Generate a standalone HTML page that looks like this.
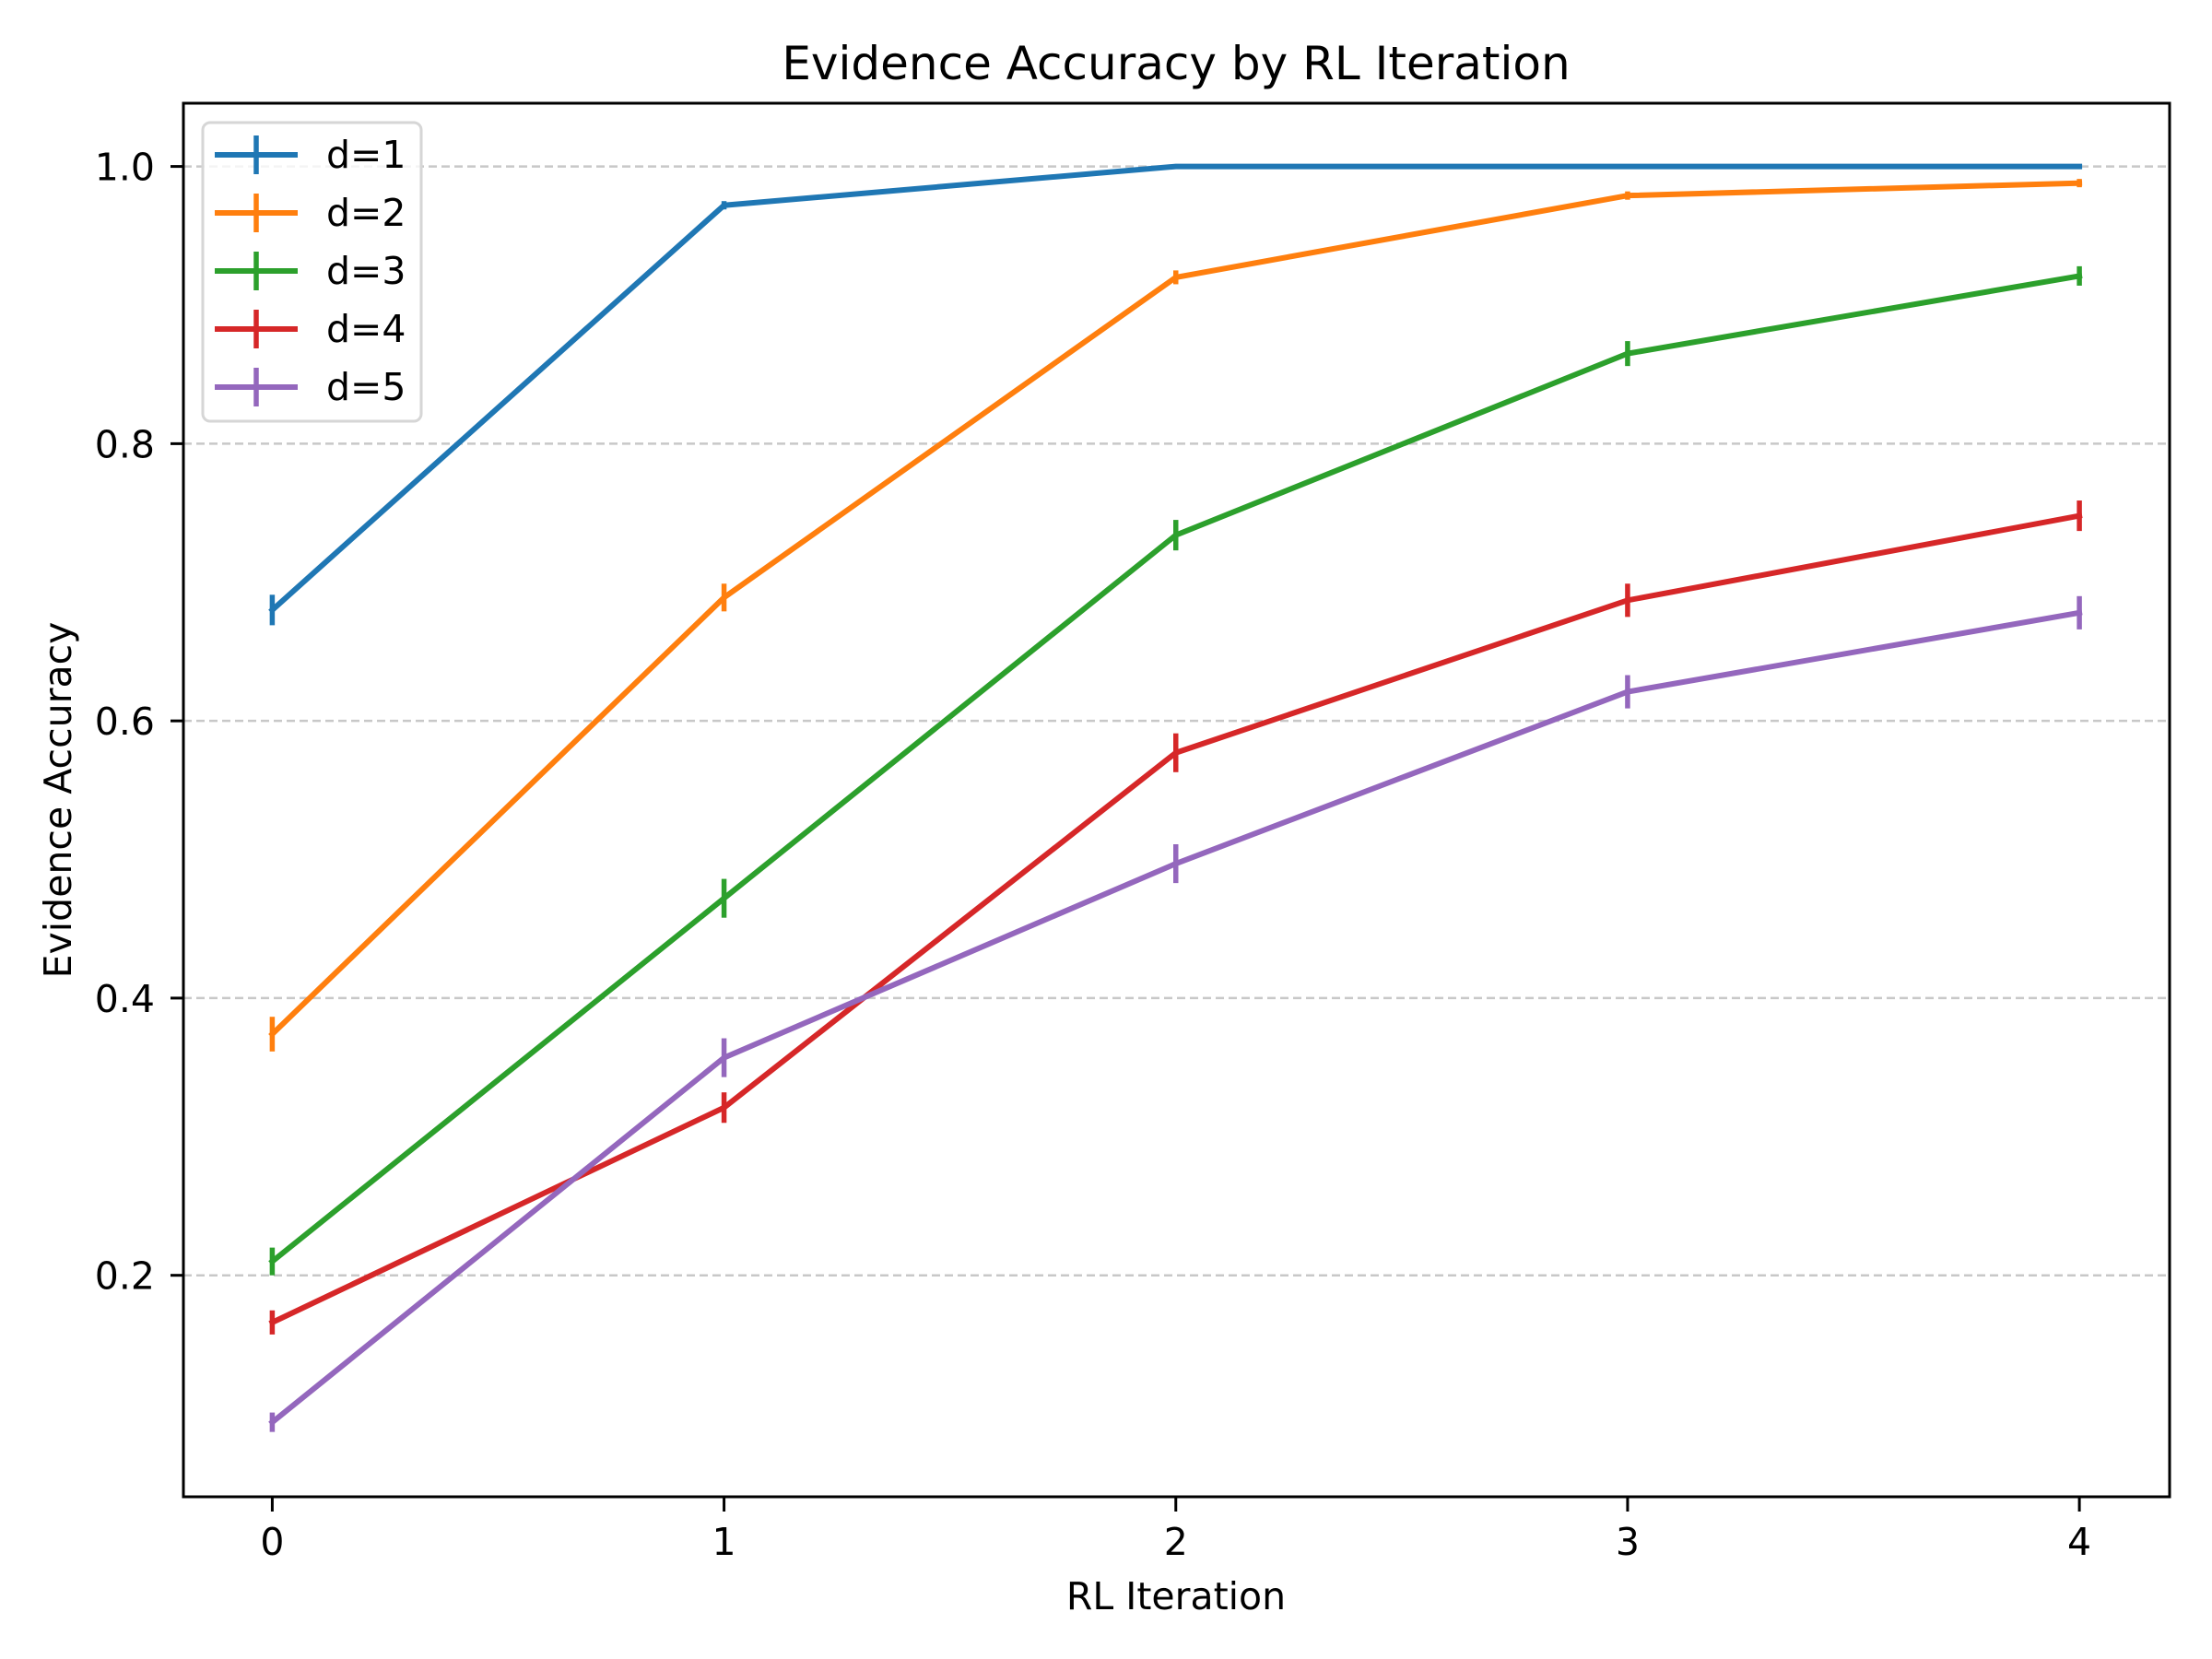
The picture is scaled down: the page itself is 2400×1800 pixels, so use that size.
<!DOCTYPE html>
<html><head><meta charset="utf-8"><style>body{margin:0;background:#fff}svg{display:block}text{font-family:"DejaVu Sans","Liberation Sans",sans-serif;fill:#000}</style></head>
<body>
<svg id="chart" width="2400" height="1800" viewBox="0 0 2400 1800" xmlns="http://www.w3.org/2000/svg">
<rect width="2400" height="1800" fill="#fff"/>
<g id="grid"></g>
<g id="series"></g>
<rect x="199" y="112" width="2155" height="1512" fill="none" stroke="#000" stroke-width="3"/>
<g id="ticks"></g>
<text x="1276" y="86" font-size="50" text-anchor="middle">Evidence Accuracy by RL Iteration</text>
<text x="1276" y="1746" font-size="41" text-anchor="middle">RL Iteration</text>
<text x="0" y="0" font-size="41" text-anchor="middle" transform="translate(77,868) rotate(-90)">Evidence Accuracy</text>
<g id="legend">
<rect x="220" y="133" width="237" height="324" rx="8" fill="#fff" fill-opacity="0.8" stroke="#d6d6d6" stroke-width="3"/>
</g>
</svg>
<script>
const categories=[0,1,2,3,4];
const labels=['d=1','d=2','d=3','d=4','d=5'];
const colors=['#1f77b4','#ff7f0e','#2ca02c','#d62728','#9467bd'];
const d1=[0.680,0.972,1.000,1.000,1.000];
const d2=[0.374,0.689,0.920,0.979,0.988];
const d3=[0.210,0.472,0.734,0.865,0.921];
const d4=[0.166,0.321,0.577,0.687,0.748];
const d5=[0.094,0.357,0.497,0.621,0.678];
const e1=[0.011,0.003,0.001,0.001,0.001];
const e2=[0.0125,0.010,0.005,0.003,0.003];
const e3=[0.010,0.014,0.011,0.009,0.007];
const e4=[0.0087,0.011,0.014,0.012,0.011];
const e5=[0.007,0.014,0.014,0.012,0.012];
const yTicks=[0.2,0.4,0.6,0.8,1.0];
const yTickLabels=['0.2','0.4','0.6','0.8','1.0'];
const xTickLabels=['0','1','2','3','4'];
const series=[d1,d2,d3,d4,d5];
const errs=[e1,e2,e3,e4,e5];
const NS='http://www.w3.org/2000/svg';
function X(v){return 295.4+(2256.1-295.4)*v/4;}
function Y(v){return 1383.7-(v-0.2)*(1383.7-180.6)/0.8;}
function mk(tag,attrs,parent){const e=document.createElementNS(NS,tag);for(const k in attrs)e.setAttribute(k,attrs[k]);parent.appendChild(e);return e;}
const grid=document.getElementById('grid'),ticks=document.getElementById('ticks'),sg=document.getElementById('series'),lg=document.getElementById('legend');
yTicks.forEach((t,i)=>{
 const g=mk('line',{x1:199,x2:2354,y1:Y(t),y2:Y(t),stroke:'#b0b0b0','stroke-width':2.5,'stroke-dasharray':'9,5','stroke-opacity':0.7},grid);
 
 
 const tk=mk('line',{x1:185,x2:199,y1:Y(t),y2:Y(t),stroke:'#000','stroke-width':3},ticks);
 
 
 const tx=mk('text',{x:168,y:Y(t)+15,'font-size':41,'text-anchor':'end'},ticks);
 tx.textContent=yTickLabels[i];
 
 
});
categories.forEach((c,i)=>{
 const tk=mk('line',{x1:X(c),x2:X(c),y1:1624,y2:1640,stroke:'#000','stroke-width':3},ticks);
 
 
 const tx=mk('text',{x:X(c),y:1687,'font-size':41,'text-anchor':'middle'},ticks);
 tx.textContent=xTickLabels[i];
 
 
});
series.forEach((s,si)=>{
 const g=mk('g',{},sg);
 
 
 errs[si].forEach((e,i)=>{
  const el=mk('line',{x1:X(categories[i]),x2:X(categories[i]),y1:Y(s[i]-e),y2:Y(s[i]+e),stroke:colors[si],'stroke-width':5.5},g);
  
  
 });
 const p=mk('polyline',{points:s.map((v,i)=>X(categories[i])+','+Y(v)).join(' '),fill:'none',stroke:colors[si],'stroke-width':6,'stroke-linejoin':'round','stroke-linecap':'square'},g);
 
 
 const ly=168+si*63;
 const le=mk('g',{},lg);
 
 
 mk('line',{x1:233,x2:323,y1:ly,y2:ly,stroke:colors[si],'stroke-width':6},le);
 mk('line',{x1:278,x2:278,y1:ly-21,y2:ly+21,stroke:colors[si],'stroke-width':5.5},le);
 const t=mk('text',{x:354,y:ly+14,'font-size':41},le);
 t.textContent=labels[si];
});
</script>
</body></html>
